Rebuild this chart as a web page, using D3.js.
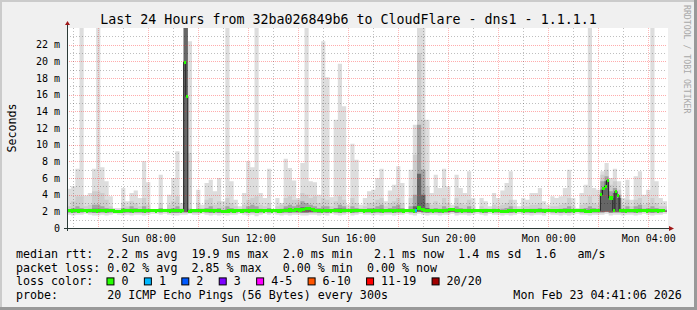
<!DOCTYPE html>
<html>
<head>
<meta charset="utf-8">
<script src="https://cdn.jsdelivr.net/npm/d3@7"></script>
<style>
  html, body { margin: 0; padding: 0; background: #f0f0f0; }
  svg { display: block; font-family: "DejaVu Sans Mono", monospace; }
</style>
</head>
<body>
<div id="chart"></div>
<script>
// Chart globals
const CHART_WIDTH = 697
const CHART_HEIGHT = 310
const PLOT = { left: 67, right: 667, top: 28, bottom: 228 }
const START = Date.UTC(2026, 1, 22, 4, 45)   // Sun 04:45
const END = Date.UTC(2026, 1, 23, 4, 45)     // Mon 04:45
const SMOKE_STEP = 10 * 60 * 1000             // smoke read in 10 min bins
const MEDIAN_STEP = 5 * 60 * 1000             // median read in 5 min steps

const TITLE = "Last 24 Hours from 32ba026849b6 to CloudFlare - dns1 - 1.1.1.1"
const Y_TICKS = [0, 2, 4, 6, 8, 10, 12, 14, 16, 18, 20, 22]

// smoke envelope (ms), one value per 10 min bin, 144 bins
const rttMax = [
  4.7, 5.0, 7.1, 30, 3.9, 4.2, 7.1, 30, 7.3, 5.6,
  3.8, 2.4, 2.4, 4.8, 3.2, 4.2, 4.5, 3.6, 8.0, 5.5,
  2.2, 2.2, 6.4, 2.3, 4.0, 6.0, 9.2, 3.0, 30, 22.4,
  2.2, 4.6, 2.8, 5.4, 5.8, 4.4, 6.0, 3.2, 30, 5.6,
  3.4, 2.6, 4.2, 8.0, 7.3, 30, 4.2, 3.6, 7.1, 2.2,
  3.6, 3.0, 8.3, 7.2, 5.7, 3.6, 7.8, 30, 5.6, 5.5,
  4.0, 22.4, 18.1, 3.7, 13.0, 19.7, 14.6, 2.8, 10.1, 8.2,
  2.8, 3.6, 4.4, 4.6, 6.0, 7.1, 3.2, 4.5, 5.2, 7.4,
  5.4, 2.2, 7.0, 12.4, 30, 30, 13.0, 4.2, 6.4, 4.8,
  7.1, 5.0, 2.8, 6.4, 4.8, 4.2, 6.8, 3.6, 2.2, 3.6,
  3.2, 2.6, 4.2, 3.6, 4.5, 5.4, 6.8, 3.4, 2.6, 3.6,
  3.4, 4.2, 4.2, 4.8, 3.2, 2.8, 3.8, 3.6, 3.8, 4.8,
  7.0, 3.6, 2.4, 4.2, 5.2, 30, 4.8, 4.6, 6.8, 7.8,
  6.0, 7.1, 5.6, 3.6, 5.8, 3.4, 6.2, 6.8, 4.0, 4.6,
  30, 5.6, 3.6, 3.2
]
const rttP90 = [
  2.6, 3.2, 3.8, 3.8, 2.6, 2.8, 4.4, 4.4, 4.2, 3.4,
  2.6, 2.2, 2.2, 3.0, 2.6, 3.2, 3.0, 2.6, 3.6, 2.8,
  2.2, 2.2, 3.0, 2.2, 2.8, 3.2, 3.8, 2.4, 30, 9.0,
  2.2, 3.0, 2.4, 3.4, 3.6, 2.8, 3.2, 2.6, 3.6, 3.0,
  2.6, 2.3, 2.8, 3.4, 3.6, 3.8, 2.8, 2.6, 3.0, 2.2,
  2.6, 2.8, 3.6, 3.8, 3.4, 3.4, 4.2, 4.0, 3.6, 3.8,
  3.0, 3.6, 3.4, 2.6, 3.2, 3.8, 3.4, 2.4, 3.6, 3.0,
  2.4, 2.6, 3.0, 3.0, 3.4, 3.6, 2.6, 3.0, 3.2, 3.6,
  3.0, 2.2, 3.6, 8.8, 21, 13, 5.0, 2.8, 3.2, 2.8,
  3.6, 3.0, 2.4, 3.6, 3.0, 2.8, 3.4, 2.6, 2.2, 2.6,
  2.4, 2.3, 2.8, 2.6, 2.8, 3.0, 3.4, 2.6, 2.3, 2.6,
  2.6, 2.8, 2.8, 3.0, 2.4, 2.4, 2.6, 2.6, 2.8, 3.0,
  3.6, 2.6, 2.2, 2.8, 3.0, 3.8, 3.0, 2.8, 6.4, 7.0,
  5.2, 5.6, 4.6, 2.8, 3.4, 2.6, 3.4, 3.6, 2.8, 3.0,
  3.6, 3.0, 2.6, 2.6
]
const rttP75 = [
  2.2, 2.4, 2.6, 2.4, 2.2, 2.3, 2.8, 2.8, 2.6, 2.4,
  2.3, 2.1, 2.1, 2.4, 2.3, 2.6, 2.4, 2.2, 2.6, 2.3,
  2.1, 2.1, 2.4, 2.1, 2.3, 2.4, 2.6, 2.2, 30, 2.3,
  2.1, 2.3, 2.2, 2.4, 2.6, 2.3, 2.4, 2.2, 2.6, 2.4,
  2.2, 2.2, 2.3, 2.6, 2.8, 2.6, 2.3, 2.2, 2.4, 2.1,
  2.2, 2.3, 2.6, 2.8, 2.6, 2.8, 3.2, 3.0, 2.8, 2.6,
  2.4, 2.6, 2.6, 2.2, 2.4, 2.8, 2.6, 2.2, 2.6, 2.4,
  2.2, 2.2, 2.4, 2.4, 2.6, 2.8, 2.2, 2.4, 2.6, 2.8,
  2.4, 2.1, 2.6, 4.0, 12.4, 7.0, 3.0, 2.3, 2.4, 2.3,
  2.6, 2.4, 2.2, 2.6, 2.4, 2.3, 2.6, 2.2, 2.1, 2.2,
  2.2, 2.1, 2.3, 2.2, 2.3, 2.4, 2.6, 2.2, 2.1, 2.2,
  2.2, 2.3, 2.3, 2.4, 2.2, 2.2, 2.2, 2.2, 2.3, 2.4,
  2.6, 2.2, 2.1, 2.3, 2.4, 2.6, 2.4, 2.3, 5.6, 6.2,
  4.4, 4.8, 4.0, 2.3, 2.6, 2.2, 2.6, 2.8, 2.3, 2.4,
  2.6, 2.4, 2.2, 2.2
]
const rttP60 = [
  2.1, 2.15, 2.2, 2.15, 2.1, 2.15, 2.3, 2.3, 2.25, 2.15,
  2.1, 2.05, 2.05, 2.15, 2.1, 2.2, 2.15, 2.1, 2.2, 2.1,
  2.05, 2.05, 2.15, 2.05, 2.1, 2.15, 2.2, 2.1, 30, 2.1,
  2.05, 2.1, 2.1, 2.15, 2.2, 2.1, 2.15, 2.1, 2.2, 2.15,
  2.1, 2.1, 2.1, 2.2, 2.25, 2.2, 2.1, 2.1, 2.15, 2.05,
  2.1, 2.1, 2.3, 2.35, 2.2, 2.4, 2.5, 2.45, 2.3, 2.2,
  2.15, 2.2, 2.2, 2.1, 2.3, 2.35, 2.3, 2.1, 2.2, 2.15,
  2.1, 2.1, 2.15, 2.15, 2.2, 2.3, 2.1, 2.15, 2.2, 2.3,
  2.15, 2.05, 2.2, 2.6, 6.5, 4.0, 2.4, 2.1, 2.15, 2.1,
  2.2, 2.15, 2.1, 2.2, 2.15, 2.1, 2.2, 2.1, 2.05, 2.1,
  2.1, 2.05, 2.1, 2.1, 2.1, 2.15, 2.2, 2.1, 2.05, 2.1,
  2.1, 2.1, 2.1, 2.15, 2.1, 2.1, 2.1, 2.1, 2.1, 2.15,
  2.2, 2.1, 2.05, 2.1, 2.15, 2.2, 2.15, 2.1, 4.6, 5.6,
  3.6, 4.2, 3.6, 2.1, 2.2, 2.1, 2.2, 2.3, 2.1, 2.15,
  2.2, 2.15, 2.1, 2.1
]
const rttLow = [
  1.9, 1.85, 1.9, 1.9, 1.95, 1.9, 1.85, 1.85, 1.9, 1.85,
  1.9, 1.95, 1.9, 1.85, 1.9, 1.85, 1.9, 1.9, 1.85, 1.9,
  1.95, 1.95, 1.9, 1.95, 1.9, 1.85, 1.85, 1.9, 1.9, 1.95,
  1.9, 1.9, 1.95, 1.9, 1.85, 1.9, 1.85, 1.9, 1.85, 1.9,
  1.9, 1.95, 1.9, 1.85, 1.9, 1.85, 1.9, 1.95, 1.9, 1.95,
  1.9, 1.85, 1.9, 1.85, 1.9, 1.9, 1.85, 1.85, 1.9, 1.9,
  1.85, 1.9, 1.85, 1.95, 1.9, 1.85, 1.9, 1.95, 1.85, 1.9,
  1.95, 1.9, 1.9, 1.85, 1.9, 1.85, 1.9, 1.9, 1.85, 1.9,
  1.9, 1.95, 1.9, 1.85, 1.95, 1.9, 1.85, 1.9, 1.9, 1.85,
  1.9, 1.9, 1.95, 1.85, 1.9, 1.9, 1.85, 1.9, 1.95, 1.9,
  1.85, 1.95, 1.9, 1.9, 1.85, 1.9, 1.85, 1.9, 1.95, 1.9,
  1.9, 1.85, 1.9, 1.9, 1.85, 1.95, 1.9, 1.9, 1.85, 1.9,
  1.85, 1.9, 1.95, 1.9, 1.9, 1.85, 1.9, 1.9, 1.9, 1.95,
  1.85, 1.9, 1.9, 1.85, 1.9, 1.9, 1.85, 1.9, 1.95, 1.9,
  1.85, 1.9, 1.9, 1.95
]
const rttMin = [
  1.6, 1.5, 1.6, 1.6, 1.7, 1.6, 1.5, 1.5, 1.6, 1.5,
  1.6, 1.7, 1.6, 1.5, 1.6, 1.5, 1.6, 1.6, 1.5, 1.6,
  1.7, 1.7, 1.6, 1.7, 1.6, 1.5, 1.5, 1.6, 1.6, 1.7,
  1.6, 1.6, 1.7, 1.6, 1.5, 1.6, 1.5, 1.6, 1.5, 1.6,
  1.6, 1.7, 1.6, 1.5, 1.6, 1.4, 1.6, 1.7, 1.6, 1.7,
  1.6, 1.5, 1.6, 1.5, 1.6, 1.6, 1.5, 1.5, 1.6, 1.6,
  1.5, 1.6, 1.5, 1.7, 1.6, 1.5, 1.6, 1.7, 1.5, 1.6,
  1.7, 1.6, 1.6, 1.5, 1.6, 1.5, 1.6, 1.6, 1.5, 1.6,
  1.6, 1.7, 1.6, 1.5, 1.7, 1.6, 1.5, 1.6, 1.6, 1.5,
  1.6, 1.6, 1.7, 1.5, 1.6, 1.6, 1.5, 1.6, 1.7, 1.6,
  1.5, 1.7, 1.6, 1.6, 1.5, 1.6, 1.5, 1.6, 1.7, 1.6,
  1.6, 1.5, 1.6, 1.6, 1.5, 1.7, 1.6, 1.6, 1.5, 1.6,
  1.5, 1.6, 1.7, 1.6, 1.6, 1.5, 1.6, 1.6, 1.6, 1.7,
  1.5, 1.6, 1.6, 1.5, 1.6, 1.6, 1.5, 1.6, 1.7, 1.6,
  1.5, 1.6, 1.6, 1.7
]

// median rtt (ms), one value per 5 min step, 288 steps (one row = 2 hours)
const medianRtt = [
  2.1, 2.1, 2.05, 2.1, 2.1, 2.05, 2.1, 2.1, 2.1, 2.05, 2.1, 2.1, 2.1, 2.1, 2.05, 2.1, 2.1, 2.1, 2.05, 2.1, 2.1, 2.1, 2.05, 1.95,
  1.95, 1.95, 2.05, 2.1, 2.1, 2.1, 2.1, 2.05, 2.1, 2.1, 2.1, 2.1, 2.1, 2.05, 2.1, 2.1, 2.1, 2.1, 2.05, 2.1, 2.1, 2.1, 2.1, 2.1,
  2.1, 2.05, 2.1, 2.1, 2.1, 2.1, 2.05, 2.1, 19.9, 15.8, 2.0, 2.05, 2.1, 2.1, 2.1, 2.1, 2.05, 2.1, 2.1, 2.1, 2.1, 2.1, 2.05, 2.1,
  2.1, 2.1, 2.0, 1.95, 2.0, 2.05, 2.1, 2.05, 2.05, 2.1, 2.1, 2.05, 2.05, 2.1, 2.1, 2.05, 2.1, 2.1, 2.05, 2.05, 2.1, 2.1, 2.05, 2.1,
  2.1, 2.1, 2.05, 2.1, 2.1, 2.05, 2.05, 2.1, 2.1, 2.1, 2.15, 2.15, 2.1, 2.15, 2.2, 2.15, 2.15, 2.2, 2.3, 2.3, 2.3, 2.2, 2.15, 2.1,
  2.1, 2.1, 2.05, 2.1, 2.1, 2.1, 2.05, 2.1, 2.1, 2.1, 2.1, 2.05, 2.1, 2.1, 2.1, 2.1, 2.05, 2.1, 2.1, 2.1, 2.1, 2.1, 2.05, 2.1,
  2.1, 2.1, 2.05, 2.1, 2.1, 2.1, 2.1, 2.05, 2.1, 2.1, 2.1, 2.1, 2.05, 2.1, 2.1, 2.1, 2.1, 2.05, 2.1, 2.1, 2.1, 2.1, 2.05, 2.1,
  2.4, 2.4, 2.2, 2.15, 2.1, 2.1, 2.1, 2.05, 2.1, 2.1, 2.1, 2.1, 2.05, 2.1, 2.1, 2.25, 2.25, 2.25, 2.1, 2.1, 2.1, 2.05, 2.1, 2.1,
  2.1, 2.1, 2.05, 2.1, 2.1, 2.1, 2.1, 2.05, 2.1, 2.1, 2.1, 2.1, 2.05, 2.1, 2.1, 2.1, 2.0, 2.0, 2.0, 2.05, 2.1, 2.1, 2.1, 2.05,
  2.1, 2.1, 2.1, 2.05, 2.1, 2.1, 2.1, 2.1, 2.05, 2.1, 2.1, 2.1, 2.1, 2.05, 2.1, 2.1, 2.1, 2.1, 2.05, 2.1, 2.1, 2.1, 2.1, 2.05,
  2.1, 2.1, 2.1, 2.05, 2.1, 2.1, 2.1, 2.1, 2.05, 2.0, 2.0, 2.05, 2.1, 2.1, 2.1, 2.1, 4.0, 4.7, 5.0, 5.7, 3.6, 3.6, 2.1, 4.4,
  3.9, 2.1, 2.1, 2.1, 2.05, 2.1, 2.1, 2.1, 2.1, 2.05, 2.1, 2.1, 2.1, 2.1, 2.05, 2.1, 2.1, 2.1, 2.1, 2.05, 2.1, 2.1, 2.1, null
]

// steps with lost pings (step index, pings lost of 20)
const lossSteps = [167]
const lossCounts = [1]

// loss colour legend
const lossLabels = ["0", "1", "2", "3", "4-5", "6-10", "11-19", "20/20"]
const lossColors = ["#26ff00", "#00b8ff", "#0059ff", "#7e00ff", "#ff00ff", "#ff5500", "#ff0000", "#a10000"]

const statLines = [
  "median rtt:  2.2 ms avg  19.9 ms max  2.0 ms min   2.1 ms now  1.4 ms sd  1.6   am/s",
  "packet loss: 0.02 % avg  2.85 % max   0.00 % min  0.00 % now"
]
const probeText = "probe:       20 ICMP Echo Pings (56 Bytes) every 300s"
const stampText = "Mon Feb 23 04:41:06 2026"

init()

function lossBucket (n) {
  if (n <= 3) return n
  if (n <= 5) return 4
  if (n <= 10) return 5
  if (n <= 19) return 6
  return 7
}

function init () {
  const svg = d3.select("#chart").append("svg")
    .attr("width", CHART_WIDTH)
    .attr("height", CHART_HEIGHT)

  // background + rrd style frame
  svg.append("rect").attr("width", CHART_WIDTH).attr("height", CHART_HEIGHT).attr("fill", "#f0f0f0")
  svg.append("path").attr("d", `M1,${CHART_HEIGHT} V1 H${CHART_WIDTH}`)
    .attr("stroke", "#cbcbcb").attr("stroke-width", 2).attr("fill", "none")
  svg.append("path").attr("d", `M0,${CHART_HEIGHT - 1.5} H${CHART_WIDTH - 1.5} V0`)
    .attr("stroke", "#999999").attr("stroke-width", 3).attr("fill", "none")

  svg.append("rect")
    .attr("x", PLOT.left).attr("y", PLOT.top)
    .attr("width", PLOT.right - PLOT.left + 1).attr("height", PLOT.bottom - PLOT.top)
    .attr("fill", "#ffffff")

  svg.append("defs").append("clipPath").attr("id", "plotClip")
    .append("rect")
    .attr("x", PLOT.left).attr("y", PLOT.top)
    .attr("width", PLOT.right - PLOT.left).attr("height", PLOT.bottom - PLOT.top)

  const x = d3.scaleUtc().domain([START, END]).range([PLOT.left, PLOT.right])
  const y = d3.scaleLinear().domain([0, 24]).range([PLOT.bottom, PLOT.top])

  drawSmoke(svg, x, y)
  drawGrid(svg, x, y)
  drawMedian(svg, x, y)
  drawAxes(svg, x, y)
  drawLegend(svg)
}

function drawSmoke (svg, x, y) {
  const layers = [
    { top: rttMax, bottom: rttMin, color: "#dddddd" },
    { top: rttP90, bottom: rttLow, color: "#cdcdcd" },
    { top: rttP75, bottom: rttLow, color: "#a4a4a4" },
    { top: rttP60, bottom: rttLow, color: "#666666" }
  ]
  const g = svg.append("g").attr("clip-path", "url(#plotClip)")

  for (const layer of layers) {
    const rows = layer.top.map((v, k) => ({ t: START + k * SMOKE_STEP, hi: v, lo: layer.bottom[k] }))
    const last = rows[rows.length - 1]
    rows.push({ t: END, hi: last.hi, lo: last.lo })

    const area = d3.area()
      .curve(d3.curveStepAfter)
      .x(d => x(d.t))
      .y0(d => y(d.lo))
      .y1(d => y(Math.min(d.hi, 25)))

    g.append("path").datum(rows)
      .attr("d", area)
      .attr("fill", layer.color)
  }
}

function drawGrid (svg, x, y) {
  const g = svg.append("g")

  // horizontal grid, 1 ms minor / 2 ms major
  const yLines = d3.range(1, 24)
  g.selectAll("line.hgrid").data(yLines).join("line")
    .attr("class", "hgrid")
    .attr("x1", PLOT.left).attr("x2", PLOT.right)
    .attr("y1", d => Math.round(y(d)) + 0.5).attr("y2", d => Math.round(y(d)) + 0.5)
    .attr("stroke", d => d % 2 === 0 ? "#ff3030" : "#000000")
    .attr("stroke-opacity", d => d % 2 === 0 ? 0.4 : 0.25)
    .attr("stroke-dasharray", d => d % 2 === 0 ? "1,1" : "1,2")

  // vertical grid, hourly minor / 2 hourly major
  const hours = d3.utcHour.every(1).range(new Date(START), new Date(END))
  g.selectAll("line.vgrid").data(hours).join("line")
    .attr("class", "vgrid")
    .attr("x1", d => Math.round(x(d)) + 0.5).attr("x2", d => Math.round(x(d)) + 0.5)
    .attr("y1", PLOT.top).attr("y2", PLOT.bottom)
    .attr("stroke", d => d.getUTCHours() % 2 === 0 ? "#ff3030" : "#000000")
    .attr("stroke-opacity", d => d.getUTCHours() % 2 === 0 ? 0.35 : 0.25)
    .attr("stroke-dasharray", d => d.getUTCHours() % 2 === 0 ? "1,1" : "1,2")
}

function drawMedian (svg, x, y) {
  const g = svg.append("g").attr("clip-path", "url(#plotClip)")
  const steps = medianRtt.map((v, j) => {
    const li = lossSteps.indexOf(j)
    return { t: START + j * MEDIAN_STEP, v: v, loss: li < 0 ? 0 : lossCounts[li] }
  })

  // thin dark median line
  const line = d3.line()
    .defined(d => d.v !== null)
    .curve(d3.curveStepAfter)
    .x(d => x(d.t))
    .y(d => y(d.v))
  const lineRows = steps.slice()
  lineRows.push({ t: END, v: null })
  g.append("path").datum(lineRows)
    .attr("d", line)
    .attr("fill", "none")
    .attr("stroke", "#202020")
    .attr("stroke-width", 1)

  // loss coloured median band per step
  g.selectAll("rect.med").data(steps.filter(d => d.v !== null)).join("rect")
    .attr("class", "med")
    .attr("x", d => x(d.t))
    .attr("width", d => x(d.t + MEDIAN_STEP) - x(d.t))
    .attr("y", d => y(d.v) - 1.6)
    .attr("height", 3.2)
    .attr("fill", d => lossColors[lossBucket(d.loss)])
    .attr("shape-rendering", "crispEdges")
}

function drawAxes (svg, x, y) {
  const axisColor = "#2c3a36"
  const arrowColor = "#a01818"

  // y axis labels
  svg.append("g").selectAll("text").data(Y_TICKS).join("text")
    .attr("x", 60)
    .attr("y", d => y(d) + 3.6)
    .attr("text-anchor", "end")
    .attr("font-size", "10px")
    .attr("fill", "#000")
    .text(d => d === 0 ? "0" : `${d} m`)

  // x axis labels every 4 hours
  const labelHours = d3.utcHour.every(4).range(new Date(START), new Date(END))
  svg.append("g").selectAll("text").data(labelHours).join("text")
    .attr("x", d => x(d) + 0.5)
    .attr("y", 241.7)
    .attr("text-anchor", "middle")
    .attr("font-size", "10px")
    .attr("fill", "#000")
    .text(d => d3.utcFormat("%a %H:%M")(d))

  // axis lines and arrows
  svg.append("line")
    .attr("x1", PLOT.left + 0.5).attr("x2", PLOT.left + 0.5)
    .attr("y1", PLOT.bottom + 3).attr("y2", PLOT.top - 4)
    .attr("stroke", axisColor).attr("stroke-width", 1)
  svg.append("line")
    .attr("x1", PLOT.left - 3).attr("x2", PLOT.right + 3)
    .attr("y1", PLOT.bottom + 0.5).attr("y2", PLOT.bottom + 0.5)
    .attr("stroke", axisColor).attr("stroke-width", 1)
  svg.append("path")
    .attr("d", `M${PLOT.left - 2},${PLOT.top - 3} L${PLOT.left + 0.5},${PLOT.top - 7} L${PLOT.left + 3},${PLOT.top - 3} Z`)
    .attr("fill", arrowColor)
  svg.append("path")
    .attr("d", `M${PLOT.right + 2},${PLOT.bottom - 2} L${PLOT.right + 7},${PLOT.bottom + 0.5} L${PLOT.right + 2},${PLOT.bottom + 3} Z`)
    .attr("fill", arrowColor)

  // title, vertical label, watermark
  svg.append("text")
    .attr("x", CHART_WIDTH / 2).attr("y", 24)
    .attr("text-anchor", "middle")
    .attr("font-size", "13.3px")
    .attr("fill", "#000")
    .text(TITLE)

  svg.append("text")
    .attr("transform", `translate(15.5,${(PLOT.top + PLOT.bottom) / 2}) rotate(-90)`)
    .attr("text-anchor", "middle")
    .attr("font-size", "11.66px")
    .attr("fill", "#000")
    .text("Seconds")

  svg.append("text")
    .attr("transform", "translate(683.5,5) rotate(90)")
    .attr("text-anchor", "start")
    .attr("font-size", "8.2px")
    .attr("fill", "#a8a8a8")
    .text("RRDTOOL / TOBI OETIKER")
}

function drawLegend (svg) {
  const charW = 7.02
  const left = 16
  const rowY = [258.2, 271.8, 285.4, 299]
  const g = svg.append("g")
    .attr("font-size", "11.66px")
    .attr("fill", "#000")
    .style("white-space", "pre")

  statLines.forEach((s, i) => {
    g.append("text").attr("x", left).attr("y", rowY[i]).attr("xml:space", "preserve").text(s)
  })

  g.append("text").attr("x", left).attr("y", rowY[2]).text("loss color:")
  let bx = left + 13 * charW - 0.8
  lossLabels.forEach((label, i) => {
    g.append("rect")
      .attr("x", bx + 0.5).attr("y", rowY[2] - 7.5)
      .attr("width", 7).attr("height", 7)
      .attr("fill", lossColors[i])
      .attr("stroke", "#000").attr("stroke-width", 1)
    g.append("text").attr("x", bx + 15).attr("y", rowY[2]).text(label)
    bx += 15 + label.length * charW + 15.4
  })

  g.append("text").attr("x", left).attr("y", rowY[3]).attr("xml:space", "preserve").text(probeText)
  g.append("text").attr("x", 681.8).attr("y", rowY[3]).attr("text-anchor", "end").text(stampText)
}
</script>
</body>
</html>
